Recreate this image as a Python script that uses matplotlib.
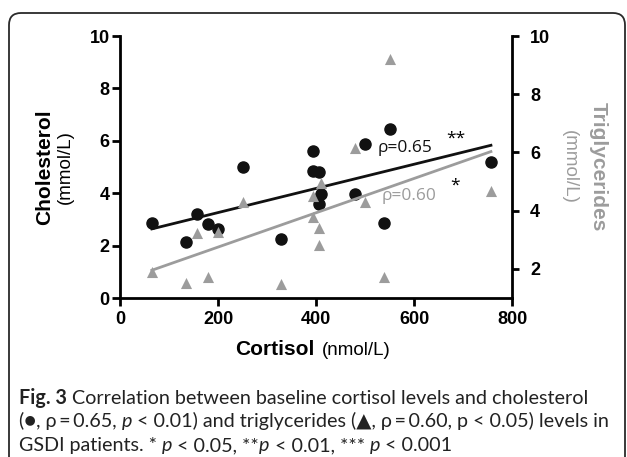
import numpy as np
import matplotlib
matplotlib.use('Agg')
import matplotlib.pyplot as plt
from matplotlib.patches import FancyBboxPatch
from matplotlib.transforms import IdentityTransform

# Values
cortisol = [65, 135, 157, 180, 200, 252, 328, 393, 393, 406, 411, 407, 480, 499, 552, 538, 757]
cholesterol = [2.87, 2.14, 3.22, 2.81, 2.62, 5.01, 2.24, 5.61, 4.85, 4.81, 3.98, 3.60, 3.97, 5.87, 6.46, 2.87, 5.19]
triglycerides = [1.91, 1.53, 3.22, 1.72, 3.27, 4.29, 1.47, 4.52, 3.79, 3.40, 4.95, 2.82, 6.16, 4.29, 9.21, 1.73, 4.67]
x_ticks = [0, 200, 400, 600, 800]
chol_ticks = [0, 2, 4, 6, 8, 10]
tg_ticks = [2, 4, 6, 8, 10]

GRAY = '#9c9c9c'
TICK_FONT = 'Liberation Sans'
CAP_FONT = ['Lato', 'DejaVu Sans']

fig = plt.figure(figsize=(6.27, 4.57), dpi=100)
ax = fig.add_axes([0.1914, 0.3479, 0.6252, 0.5733])
ax2 = ax.twinx()

# scatter points
ax.scatter(cortisol, cholesterol, s=64, color='#111111', zorder=3, clip_on=False)
ax2.scatter(cortisol, triglycerides, s=64, marker='^', color=GRAY, linewidths=0, zorder=2, clip_on=False)

# linear fits
xs = np.array([min(cortisol), max(cortisol)])
p1 = np.polyfit(cortisol, cholesterol, 1)
p2 = np.polyfit(cortisol, triglycerides, 1)
ax.plot(xs, np.polyval(p1, xs), color='#111111', lw=2, zorder=4)
ax2.plot(xs, np.polyval(p2, xs), color=GRAY, lw=2, zorder=4)

ax.set_xlim(0, 800)
ax.set_ylim(0, 10)
ax2.set_ylim(1, 10)
ax.set_xticks(x_ticks)
ax.set_yticks(chol_ticks)
ax2.set_yticks(tg_ticks)

for a in (ax, ax2):
    a.spines['top'].set_visible(False)
    for s in a.spines.values():
        s.set_linewidth(2)
ax.spines['right'].set_visible(False)
ax2.spines['left'].set_visible(False)
ax2.spines['bottom'].set_visible(False)

ax.tick_params(axis='both', width=2, length=5.5, labelsize=13)
ax.tick_params(axis='y', pad=2)
ax.tick_params(axis='x', pad=4)
ax2.tick_params(axis='y', width=2, length=5, labelsize=13, pad=8)
for lab in ax.get_xticklabels() + ax.get_yticklabels() + ax2.get_yticklabels():
    lab.set_fontfamily(TICK_FONT)
    lab.set_fontweight('bold')

# axis labels
ax.text(-0.192, 0.5, 'Cholesterol', transform=ax.transAxes, rotation=90, ha='center', va='center',
        fontsize=15, fontweight='bold', family=TICK_FONT)
ax.text(-0.14, 0.5, '(mmol/L)', transform=ax.transAxes, rotation=90, ha='center', va='center',
        fontsize=13.5, family=TICK_FONT)
ax.text(0.497, -0.2176, 'Cortisol', transform=ax.transAxes, ha='right', va='baseline',
        fontsize=15, fontweight='bold', family=TICK_FONT)
ax.text(0.515, -0.2176, '(nmol/L)', transform=ax.transAxes, ha='left', va='baseline',
        fontsize=13.5, family=TICK_FONT)
ax.text(1.22, 0.5, 'Triglycerides', transform=ax.transAxes, rotation=-90, ha='center', va='center',
        fontsize=15, fontweight='bold', family=TICK_FONT, color=GRAY)
ax.text(1.146, 0.5, '(mmol/L)', transform=ax.transAxes, rotation=-90, ha='center', va='center',
        fontsize=13.5, family=TICK_FONT, color=GRAY)

# annotations
ax.text(525, 5.72, 'ρ=0.65', fontsize=12.5, family='Open Sans', va='center', color='#111111')
ax.text(533, 3.9, 'ρ=0.60', fontsize=12.5, family='Open Sans', va='center', color=GRAY)
ax.text(686, 6.1, '**', fontsize=12.5, family='Open Sans', ha='center', va='center')
ax.text(684, 4.3, '*', fontsize=12.5, family='Open Sans', ha='center', va='center')

# rounded frame
frame = FancyBboxPatch((9, -30), 616, 474, boxstyle='round,pad=0,rounding_size=12',
                       transform=IdentityTransform(), fill=False, edgecolor='#2a2a2a', lw=1.3)
fig.patches.append(frame)

# caption with mixed styles
fig.canvas.draw()
renderer = fig.canvas.get_renderer()


def draw_runs(x_px, y_px, runs, size=14.2):
    for txt, style in runs:
        t = fig.text(x_px / 627, y_px / 457, txt, fontsize=size, family=CAP_FONT,
                     fontweight='bold' if 'b' in style else 'normal',
                     fontstyle='italic' if 'i' in style else 'normal',
                     color='#222222', va='baseline')
        bb = t.get_window_extent(renderer)
        x_px += bb.width


ts = '\u2009'
cap_lines = [
    [('Fig. 3', 'b'), (' Correlation between baseline cortisol levels and cholesterol', '')],
    [(f'(●, ρ{ts}={ts}0.65, ', ''), ('p', 'i'),
     (f' < 0.01) and triglycerides (▲, ρ{ts}={ts}0.60, p < 0.05) levels in', '')],
    [('GSDI patients. * ', ''), ('p', 'i'), (' < 0.05, **', ''), ('p', 'i'), (' < 0.01, *** ', ''),
     ('p', 'i'), (' < 0.001', '')],
]
for i, runs in enumerate(cap_lines):
    draw_runs(19, 457 - 404 - i * 23.5, runs)

fig.savefig('out.png', dpi=100)
